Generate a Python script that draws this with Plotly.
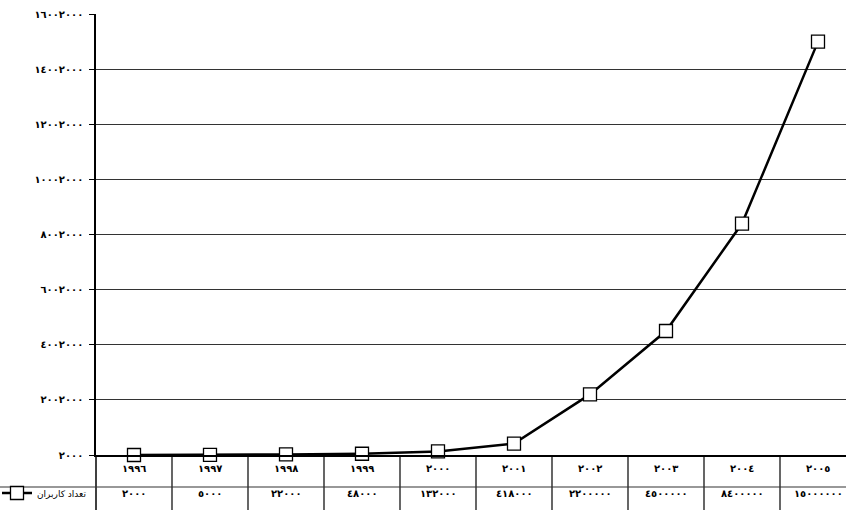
import plotly.graph_objects as go

years = [1996, 1997, 1998, 1999, 2000, 2001, 2002, 2003, 2004, 2005]
users = [2000, 5000, 22000, 48000, 132000, 418000, 2200000, 4500000, 8400000, 15000000]
y_ticks = [2000 + k * 2000000 for k in range(9)]
series_name = "تعداد کاربران"

AR = str.maketrans("0123456789", "٠١٢٣٤٥٦٧٨٩")
def ar(n):
    return str(n).translate(AR)

W, H = 846, 510
L, R, T, B = 96, 0, 14, 55
pw, ph = W - L - R, H - T - B
cat_px = 76.0
x_hi = -0.5 + pw / cat_px

def py(px_below):  # pixel offset below plot bottom -> paper y
    return -px_below / ph

def pxp(px):  # absolute pixel x -> paper x
    return (px - L) / pw

FONT = "DejaVu Sans"
xs = list(range(len(years)))

fig = go.Figure()
fig.add_trace(go.Scatter(
    x=xs, y=users, mode="lines+markers", name=series_name,
    line=dict(color="black", width=2.5),
    marker=dict(symbol="square", size=13, color="white",
                line=dict(color="black", width=1.3)),
    cliponaxis=False,
))

shapes = []
for i in range(len(years) - 1):
    shapes.append(dict(type="line", xref="x", yref="paper", x0=i + 0.5, x1=i + 0.5,
                       y0=0, y1=py(60), line=dict(color="black", width=1.2)))
shapes.append(dict(type="line", xref="paper", yref="paper", x0=0, x1=0,
                   y0=0, y1=py(60), line=dict(color="black", width=1.5)))
shapes.append(dict(type="line", xref="paper", yref="paper", x0=pxp(0), x1=1,
                   y0=py(32), y1=py(32), line=dict(color="#333", width=1.2)))

ann = []
for i, (yr, v) in enumerate(zip(years, users)):
    ann.append(dict(x=i, xref="x", y=py(13), yref="paper", text=ar(yr), showarrow=False,
                    font=dict(family=FONT, size=10, color="black", weight="bold"),
                    yanchor="middle"))
    ann.append(dict(x=i, xref="x", y=py(38), yref="paper", text=ar(v), showarrow=False,
                    font=dict(family=FONT, size=10, color="black", weight="bold"),
                    yanchor="middle"))

fig.update_layout(
    width=W, height=H,
    margin=dict(l=L, r=R, t=T, b=B, autoexpand=False),
    paper_bgcolor="white", plot_bgcolor="white",
    showlegend=True,
    legend=dict(x=pxp(-3), xanchor="left", y=py(38), yanchor="middle",
                font=dict(family=FONT, size=9, color="black"),
                bgcolor="rgba(0,0,0,0)", itemwidth=30, tracegroupgap=0),
    xaxis=dict(range=[-0.5, x_hi], showgrid=False, zeroline=False,
               showticklabels=False, ticks="", showline=True,
               linecolor="black", linewidth=1.5, fixedrange=True),
    yaxis=dict(range=[2000, 16002000], tickvals=y_ticks,
               ticktext=[ar(v) for v in y_ticks],
               showgrid=True, gridcolor="#333", gridwidth=1,
               zeroline=False, showline=True, linecolor="black", linewidth=1.5,
               ticks="outside", ticklen=5, tickcolor="black", ticklabelstandoff=4,
               tickfont=dict(family=FONT, size=10, color="black", weight="bold")),
    shapes=shapes, annotations=ann,
)

fig.write_html("out.html", config={"displayModeBar": False},
               post_script="document.body.style.margin='0';document.body.style.overflow='hidden';")
